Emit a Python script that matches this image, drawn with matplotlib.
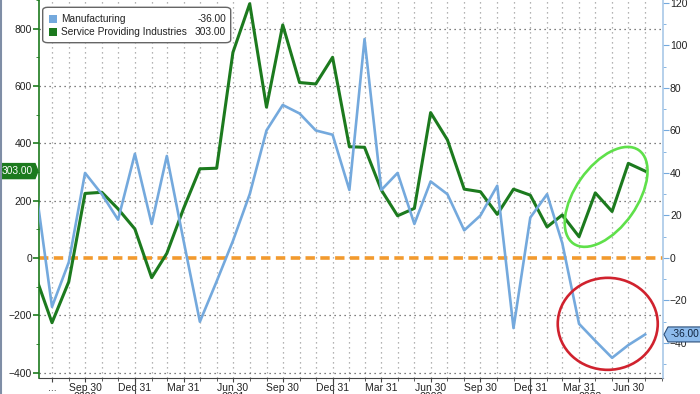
import matplotlib
matplotlib.use("Agg")
import matplotlib.pyplot as plt
import matplotlib.dates as mdates
import matplotlib.transforms as mtransforms
from matplotlib.patches import Ellipse, Polygon, FancyBboxPatch, Rectangle
from matplotlib.font_manager import FontProperties, findfont
from matplotlib.ticker import MultipleLocator
import pandas as pd

# monthly data, Jun 2020 .. Jul 2023 (thousands)
months = pd.date_range("2020-06-30", periods=38, freq="ME")
service = [
    -60, -226, -83, 225, 229, 171, 101, -69, 16, 173, 311, 313,
    717, 887, 526, 813, 612, 607, 700, 388, 386, 237, 147, 173,
    507, 412, 240, 231, 152, 240, 219, 108, 150, 74, 227, 162,
    330, 303,
]
manufacturing = [
    35, -23, -2, 40, 30, 18, 49, 16, 48, 8, -30, -11,
    8, 30, 60, 72, 68, 60, 58, 32, 103, 32, 40, 16,
    36, 30, 13, 20, 34, -33, 19, 30, 7, -31, -39, -47,
    -41, -36,
]
quarter_ticks = pd.date_range("2020-09-30", "2023-06-30", freq="QE")
year_labels = ["2020", "2021", "2022", "2023"]
year_label_dates = pd.to_datetime(["2020-09-30", "2021-06-30", "2022-06-30", "2023-04-20"])
year_breaks = pd.to_datetime(["2020-12-31", "2021-12-31", "2022-12-31"])

GREEN = "#1c7a1e"
BLUE = "#74a9dd"
ORANGE = "#f29a2e"
TXT = "#222222"


def pick_font():
    for name in ["Liberation Sans Narrow", "Liberation Sans"]:
        try:
            findfont(FontProperties(family=name), fallback_to_default=False)
            return name
        except ValueError:
            pass
    return "DejaVu Sans"


plt.rcParams["font.family"] = [pick_font(), "DejaVu Sans"]
plt.rcParams["font.size"] = 7.5

fig = plt.figure(figsize=(7, 3.94), dpi=100)
ax = fig.add_axes([39 / 700, 16 / 394, 624 / 700, 378 / 394])
ax2 = ax.twinx()


def px(x, y):
    # figure pixel -> axes fraction
    return (x - 39) / 624, (378 - y) / 378


# grid
grid_kw = dict(linestyle=(0, (1, 3)), linewidth=0.9)
for d in months:
    ax.axvline(d, color="#9a9a9a", zorder=0, **grid_kw)
for v in [-400, -200, 200, 400, 600, 800]:
    ax.axhline(v, color="#555555", zorder=0, **grid_kw)
ax.axhline(0, color=ORANGE, linewidth=2.6, dashes=(2.6, 1.5), zorder=1)

ax.plot(months, service, color=GREEN, linewidth=2.2, zorder=3)
ax2.plot(months, manufacturing, color=BLUE, linewidth=1.9, zorder=3)

ax.set_xlim(pd.Timestamp("2020-07-07"), pd.Timestamp("2023-09-02"))
ax.set_ylim(-419, 900)
ax2.set_ylim(-56.5, 121.4)

# x axis
ax.xaxis.set_minor_locator(mdates.MonthLocator(bymonthday=-1))
ax.set_xticks(list(quarter_ticks) + [months[1]])
ax.set_xticklabels([d.strftime("%b %d") for d in quarter_ticks] + ["..."])
ax.tick_params(axis="x", which="major", length=3, pad=0.5, colors="#444444",
               labelcolor=TXT, labelsize=7.5)
ax.tick_params(axis="x", which="minor", length=2, colors="#444444")
# year row sits mostly below the picture edge, as in the source chart
for lab, d in zip(year_labels, year_label_dates):
    ax.text(d, -0.038, lab, transform=ax.get_xaxis_transform(), ha="center",
            va="top", fontsize=7.5, color=TXT, clip_on=False)
ax.vlines(year_breaks, -0.045, 0, transform=ax.get_xaxis_transform(),
          color="#444444", linewidth=0.8, clip_on=False)

# left axis
ax.yaxis.set_major_locator(MultipleLocator(200))
ax.yaxis.set_minor_locator(MultipleLocator(100))
ax.tick_params(axis="y", which="major", length=4, width=1.2, colors=GREEN,
               labelcolor=TXT, labelsize=7.5, pad=1)
ax.tick_params(axis="y", which="minor", length=2, colors=GREEN)
ax.spines["left"].set_color(GREEN)
ax.spines["left"].set_linewidth(1.2)
ax.spines["bottom"].set_color("#444444")
ax.spines["top"].set_visible(False)
ax.spines["right"].set_visible(False)

# right axis
ax2.yaxis.set_major_locator(MultipleLocator(20))
ax2.yaxis.set_minor_locator(MultipleLocator(10))
ax2.tick_params(axis="y", which="major", length=4, colors=BLUE,
                labelcolor=TXT, labelsize=7.5, pad=1)
ax2.tick_params(axis="y", which="minor", length=2, colors=BLUE)
for s in ["left", "top", "bottom"]:
    ax2.spines[s].set_visible(False)
ax2.spines["right"].set_color("#a9c8e8")
ax2.spines["right"].set_linewidth(1.2)


def anchored(x, y, base):
    # inch-sized shapes anchored at a point given in `base` coordinates
    return fig.dpi_scale_trans + mtransforms.ScaledTranslation(x, y, base)


# hand-drawn style circles
green_trans = anchored(mdates.date2num(pd.Timestamp("2023-05-20")), 213, ax.transData)
ax2.add_patch(Ellipse((0, 0), 1.14, 0.62, angle=55, fill=False,
                      edgecolor="#5fe04a", linewidth=1.9,
                      transform=green_trans, zorder=5))
red_trans = anchored(mdates.date2num(pd.Timestamp("2023-05-23")), -230, ax.transData)
ax2.add_patch(Ellipse((0, 0), 1.00, 0.92, angle=0, fill=False,
                      edgecolor="#d0222e", linewidth=1.9,
                      transform=red_trans, zorder=5, clip_on=False))

# legend
lx0, ly0 = px(42.7, 42.7)
lx1, ly1 = px(230.7, 7.3)
ax2.add_patch(FancyBboxPatch((lx0, ly0), lx1 - lx0, ly1 - ly0,
                             boxstyle="round,pad=0,rounding_size=0.008",
                             transform=ax2.transAxes, facecolor="white",
                             edgecolor="#666666", linewidth=1, zorder=10))
rows = [("Manufacturing", manufacturing[-1], BLUE, 19),
        ("Service Providing Industries", service[-1], GREEN, 32)]
for name, val, col, yc in rows:
    sx, sy = px(49, yc + 4)
    sx1, sy1 = px(57, yc - 4)
    ax2.add_patch(Rectangle((sx, sy), sx1 - sx, sy1 - sy, transform=ax2.transAxes,
                            facecolor=col, edgecolor="none", zorder=11))
    tx, ty = px(61, yc)
    ax2.text(tx, ty, name, transform=ax2.transAxes, va="center", ha="left",
             fontsize=7.3, color=TXT, zorder=12)
    vx, _ = px(226, yc)
    ax2.text(vx, ty, f"{val:.2f}", transform=ax2.transAxes, va="center",
             ha="right", fontsize=7.3, color=TXT, zorder=12)

# last value tags
h = 0.075
trans_l = anchored(0, service[-1],
                   mtransforms.blended_transform_factory(ax.transAxes, ax.transData))
ax2.add_patch(Polygon([(-0.39, -h), (-0.04, -h), (-0.01, 0), (-0.04, h), (-0.39, h)],
                      closed=True, facecolor=GREEN, edgecolor=GREEN,
                      transform=trans_l, clip_on=False, zorder=20))
ax2.text(-0.215, 0, f"{service[-1]:.2f}", transform=trans_l, ha="center",
         va="center", fontsize=7.3, color="white", clip_on=False, zorder=21)

trans_r = anchored(1, manufacturing[-1],
                   mtransforms.blended_transform_factory(ax2.transAxes, ax2.transData))
ax2.add_patch(Polygon([(0.38, -h), (0.05, -h), (0.01, 0), (0.05, h), (0.38, h)],
                      closed=True, facecolor="#8dbbec", edgecolor="#2b4f7a",
                      linewidth=0.8, transform=trans_r, clip_on=False, zorder=20))
ax2.text(0.215, 0, f"{manufacturing[-1]:.2f}", transform=trans_r, ha="center",
         va="center", fontsize=7.3, color="#10243f", clip_on=False, zorder=21)

# thin frame line on the left edge
fig.add_artist(plt.Line2D([0.002, 0.002], [0, 1], color="#7f8ea6",
                          linewidth=1.5, transform=fig.transFigure))

fig.savefig("out.png", dpi=100)
